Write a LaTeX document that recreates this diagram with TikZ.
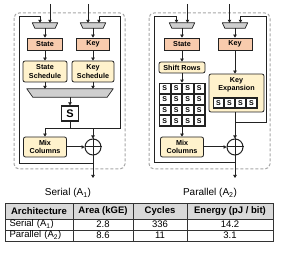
\documentclass[tikz,border=0pt]{standalone}
\usepackage{fontspec}
\setmainfont{Liberation Sans}
\usetikzlibrary{arrows.meta}

\definecolor{regfill}{HTML}{F8CBAD}
\definecolor{opfill}{HTML}{FFF2CC}
\definecolor{muxfill}{HTML}{CFCFCF}
\definecolor{gridfill}{HTML}{C8C8C8}
\definecolor{framegray}{HTML}{A6A6A6}
\definecolor{headfill}{HTML}{D9D9D9}
\definecolor{wirecol}{HTML}{222222}

\tikzset{
  wire/.style={line width=1pt, draw=wirecol},
  flow/.style={wire, -{Triangle[length=3pt,width=3.5pt]}},
  reg/.style={draw=wirecol, line width=0.8pt, fill=regfill, minimum height=12pt, inner sep=0pt, font=\fontsize{7.2}{8}\selectfont\bfseries},
  op/.style={draw=wirecol, line width=0.8pt, fill=opfill, rounded corners=2pt, align=center, inner sep=0pt, font=\fontsize{7.2}{8.5}\selectfont\bfseries},
  mux/.style={rectangle, inner sep=0pt, minimum height=5pt, minimum width=25pt},
  muxbody/.style={draw=wirecol, line width=0.7pt, fill=muxfill, line join=round},
  sboxcell/.style={draw=wirecol, line width=0.6pt, fill=white, minimum width=10pt, minimum height=9.2pt, inner sep=0pt, font=\fontsize{7}{7}\selectfont\bfseries},
  sboxrow/.style={draw=wirecol, line width=0.7pt, fill=gridfill, inner sep=0pt},
  xorgate/.style={circle, draw=wirecol, line width=1pt, minimum size=16pt, inner sep=0pt},
  archframe/.style={draw=framegray, line width=1pt, dash pattern=on 3pt off 2pt, rounded corners=5pt},
  caption/.style={font=\fontsize{10}{12}\selectfont},
  cell/.style={draw=black!80, line width=0.5pt, minimum height=11pt, inner sep=0pt, font=\fontsize{9.5}{11}\selectfont},
  headcell/.style={cell, fill=headfill, minimum height=16pt, font=\fontsize{9.5}{11}\selectfont\bfseries},
}

\begin{document}
\begin{tikzpicture}[x=1pt,y=-1pt]

\useasboundingbox (0,0) rectangle (283,256);

\draw[archframe] (14,13) rectangle (125,169);
\draw[archframe] (149,13) rectangle (270,169);

\node[mux]
(muxSt)
at (45,25.5)
{};

\node[mux]
(muxKey)
at (93,25.5)
{};

\node[reg, minimum width=35pt]
(state)
at (45,44)
{State};

\node[reg, minimum width=33pt]
(key)
at (93,44)
{Key};

\node[op, minimum width=44pt, minimum height=21pt]
(stSched)
at (45,71.5)
{State\\Schedule};

\node[op, minimum width=42pt, minimum height=21pt]
(keySched)
at (93,71.5)
{Key\\Schedule};

\node[mux, minimum width=86pt, minimum height=8pt]
(bigMux)
at (70,93)
{};

\node[draw=wirecol, line width=1.3pt, fill=white, minimum width=17pt, minimum height=15pt, inner sep=0pt, font=\fontsize{11}{11}\selectfont\bfseries]
(sbox)
at (70,113.5)
{S};

\node[op, minimum width=43pt, minimum height=20pt]
(mixCol)
at (45,147)
{Mix\\Columns};

\node[xorgate]
(xor)
at (93,147)
{};

\draw[muxbody] (muxSt.north west) -- (muxSt.north east) -- ([xshift=-2.5pt]muxSt.south east) -- ([xshift=2.5pt]muxSt.south west) -- cycle;
\draw[muxbody] (muxKey.north west) -- (muxKey.north east) -- ([xshift=-2.5pt]muxKey.south east) -- ([xshift=2.5pt]muxKey.south west) -- cycle;
\draw[muxbody] (bigMux.north west) -- (bigMux.north east) -- ([xshift=-6pt]bigMux.south east) -- ([xshift=6pt]bigMux.south west) -- cycle;

\coordinate (inSt) at (50,4);
\coordinate (inKey) at (88,4);
\coordinate (fbSt) at (40,17);
\coordinate (fbKey) at (99,17);
\coordinate (loopSt) at (19.5,164);
\coordinate (busR) at (120,129);
\coordinate (outS) at (93,178);

\draw[wire] (xor.north) -- (xor.south) (xor.west) -- (xor.east);
\draw[flow] (inSt) -- (inSt |- muxSt.north);
\draw[flow] (inKey) -- (inKey |- muxKey.north);
\draw[flow] (muxSt) -- (state);
\draw[flow] (muxKey) -- (key);
\draw[flow] (state) -- (stSched);
\draw[flow] (key) -- (keySched);
\draw[flow] (stSched) -- (stSched |- bigMux.north);
\draw[flow] (keySched) -- (keySched |- bigMux.north);
\draw[flow] (bigMux) -- (sbox);
\draw[wire] (sbox) -- (sbox |- busR);
\draw[flow] (busR) -| (mixCol);
\draw[flow] (xor |- busR) -- (xor);
\draw[flow] (busR) |- (fbKey) -- (fbKey |- muxKey.north);
\draw[flow] (mixCol) -- (xor);
\draw[flow] (xor) -- (outS);
\draw[flow] (xor.south) |- (loopSt) |- (fbSt) -- (fbSt |- muxSt.north);

\node[mux]
(muxSt2)
at (182,25.5)
{};

\node[mux]
(muxKey2)
at (235,25.5)
{};

\node[reg, minimum width=35pt]
(state2)
at (182,44)
{State};

\node[reg, minimum width=34pt]
(key2)
at (235,44)
{Key};

\node[op, minimum width=46pt, minimum height=11pt]
(shiftRows)
at (182,67.5)
{Shift Rows};

\node[sboxrow, minimum width=46pt, minimum height=43pt]
(sGrid)
at (182,104.5)
{};

\foreach \col in {0,...,3}
  \foreach \row in {0,...,3}
    \node[sboxcell, minimum width=10.5pt, minimum height=9.7pt]
    (s\row\col)
    at (164.75+11.5*\col,88.4+10.75*\row)
    {S};

\node[op, minimum width=55pt, minimum height=38pt]
(keyExp)
at (236.5,93)
{};

\node[font=\fontsize{7.2}{8.5}\selectfont\bfseries, align=center, inner sep=0pt]
(keyExpTxt)
at (236.5,85)
{Key\\Expansion};

\node[sboxrow, minimum width=44pt, minimum height=11pt]
(kRow)
at (235,103)
{};

\foreach \col in {0,...,3}
  \node[sboxcell]
  (k\col)
  at (218.5+11*\col,103)
  {S};

\node[op, minimum width=43pt, minimum height=20pt]
(mixCol2)
at (182,147)
{Mix\\Columns};

\node[xorgate]
(xor2)
at (235,147)
{};

\draw[muxbody] (muxSt2.north west) -- (muxSt2.north east) -- ([xshift=-2.5pt]muxSt2.south east) -- ([xshift=2.5pt]muxSt2.south west) -- cycle;
\draw[muxbody] (muxKey2.north west) -- (muxKey2.north east) -- ([xshift=-2.5pt]muxKey2.south east) -- ([xshift=2.5pt]muxKey2.south west) -- cycle;

\coordinate (inSt2) at (187.5,4);
\coordinate (inKey2) at (229.5,4);
\coordinate (fbSt2) at (176.5,17);
\coordinate (fbKey2) at (240.5,17);
\coordinate (loopSt2) at (154,163);
\coordinate (busR2) at (266,123);
\coordinate (outP) at (235,178);

\draw[wire] (xor2.north) -- (xor2.south) (xor2.west) -- (xor2.east);
\draw[flow] (inSt2) -- (inSt2 |- muxSt2.north);
\draw[flow] (inKey2) -- (inKey2 |- muxKey2.north);
\draw[flow] (muxSt2) -- (state2);
\draw[flow] (muxKey2) -- (key2);
\draw[flow] (state2) -- (shiftRows);
\draw[flow] (shiftRows) -- (sGrid);
\draw[flow] (key2) -- (key2 |- keyExp.north);
\draw[flow] (sGrid) -- (mixCol2);
\draw[flow] (mixCol2) -- (xor2);
\draw[flow] (xor2 |- keyExp.south) -- (xor2);
\draw[flow] (busR2 -| xor2) -- (busR2) |- (fbKey2) -- (fbKey2 |- muxKey2.north);
\draw[flow] (xor2) -- (outP);
\draw[flow] (xor2.south) |- (loopSt2) |- (fbSt2) -- (fbSt2 |- muxSt2.north);

\node[caption]
(serialLbl)
at (68,193)
{Serial (A\textsubscript{1})};

\node[caption]
(parallelLbl)
at (210,193)
{Parallel (A\textsubscript{2})};

\node[headcell, minimum width=68pt] (hArch) at (39,211) {Architecture};
\node[headcell, minimum width=60pt] (hArea) at (103,211) {Area (kGE)};
\node[headcell, minimum width=54pt] (hCyc) at (160,211) {Cycles};
\node[headcell, minimum width=86pt] (hEnergy) at (230,211) {Energy (pJ / bit)};

\node[cell, minimum width=68pt, text width=59pt, align=left] (rArch1) at (39,224.5) {Serial (A\textsubscript{1})};
\node[cell, minimum width=60pt] (rArea1) at (103,224.5) {2.8};
\node[cell, minimum width=54pt] (rCyc1) at (160,224.5) {336};
\node[cell, minimum width=86pt] (rEnergy1) at (230,224.5) {14.2};

\node[cell, minimum width=68pt, text width=59pt, align=left] (rArch2) at (39,235.5) {Parallel (A\textsubscript{2})};
\node[cell, minimum width=60pt] (rArea2) at (103,235.5) {8.6};
\node[cell, minimum width=54pt] (rCyc2) at (160,235.5) {11};
\node[cell, minimum width=86pt] (rEnergy2) at (230,235.5) {3.1};

\end{tikzpicture}
\end{document}
